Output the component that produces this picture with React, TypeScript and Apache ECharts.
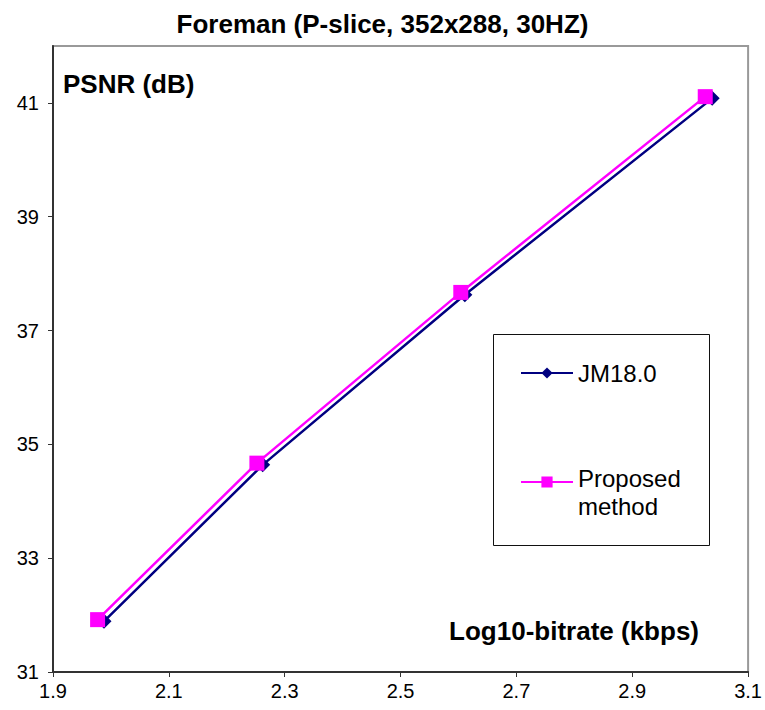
import React, { useEffect, useRef } from "react";
import * as echarts from "echarts";

const titleText = "Foreman (P-slice, 352x288, 30HZ)";
const yAxisTitle = "PSNR (dB)";
const xAxisTitle = "Log10-bitrate (kbps)";
const seriesNames = ["JM18.0", "Proposed method"];
const jmData: [number, number][] = [
  [1.988, 31.89],
  [2.262, 34.64],
  [2.611, 37.63],
  [3.038, 41.08],
];
const proposedData: [number, number][] = [
  [1.977, 31.92],
  [2.252, 34.67],
  [2.604, 37.67],
  [3.026, 41.11],
];
const xRange = { min: 1.9, max: 3.1, interval: 0.2 };
const yRange = { min: 31, max: 42, interval: 2 };

const FONT = 'Arial, "Liberation Sans", sans-serif';

export default function App() {
  const ref = useRef<HTMLDivElement>(null);
  useEffect(() => {
    if (!ref.current) return;
    const chart = echarts.init(ref.current, undefined, { renderer: "svg" });
    chart.setOption({
      animation: false,
      backgroundColor: "#fff",
      title: {
        text: titleText,
        left: "center",
        top: 6,
        textStyle: { fontFamily: FONT, fontSize: 26, fontWeight: "bold", color: "#000" },
      },
      grid: {
        left: 53,
        right: 13,
        top: 46,
        bottom: 38,
        show: true,
        borderColor: "#999",
        borderWidth: 2,
        backgroundColor: "#fff",
      },
      xAxis: {
        type: "value",
        min: xRange.min,
        max: xRange.max,
        interval: xRange.interval,
        axisLine: { show: true, onZero: false, lineStyle: { color: "#333", width: 2 } },
        axisTick: { show: true, length: 5, lineStyle: { color: "#333" } },
        splitLine: { show: false },
        axisLabel: {
          margin: 9,
          fontFamily: FONT,
          fontSize: 20,
          color: "#000",
          formatter: (v: number) => v.toFixed(1),
        },
      },
      yAxis: {
        type: "value",
        min: yRange.min,
        max: yRange.max,
        interval: yRange.interval,
        axisLine: { show: true, onZero: false, lineStyle: { color: "#333", width: 2 } },
        axisTick: { show: true, length: 5, lineStyle: { color: "#333" } },
        splitLine: { show: false },
        axisLabel: {
          margin: 14,
          fontFamily: FONT,
          fontSize: 20,
          color: "#000",
          showMaxLabel: false,
          formatter: (v: number) => (Math.abs(v - 42) < 1e-6 ? "" : String(Math.round(v))),
        },
      },
      legend: [
        {
          data: [seriesNames[0]],
          left: 520,
          top: 359,
          padding: 0,
          itemWidth: 52,
          itemHeight: 14,
          itemGap: 5,
          textStyle: { fontFamily: FONT, fontSize: 24, lineHeight: 28, color: "#000" },
        },
        {
          data: [seriesNames[1]],
          left: 520,
          top: 444,
          padding: 0,
          itemWidth: 52,
          itemHeight: 14,
          itemGap: 5,
          formatter: () => "{s| }\n{a|Proposed}\n{a|method}",
          textStyle: {
            fontFamily: FONT,
            fontSize: 24,
            lineHeight: 28,
            color: "#000",
            rich: {
              s: { fontFamily: FONT, fontSize: 10, lineHeight: 20 },
              a: { fontFamily: FONT, fontSize: 24, lineHeight: 28, color: "#000" },
            },
          },
        },
      ],
      graphic: [
        {
          type: "rect",
          left: 493,
          top: 334,
          shape: { width: 216, height: 211 },
          style: { fill: "#fff", stroke: "#111", lineWidth: 1 },
        },
        {
          type: "text",
          left: 63,
          top: 71,
          style: { text: yAxisTitle, font: `bold 26px ${FONT}`, fill: "#000" },
        },
        {
          type: "text",
          right: 66,
          top: 618,
          style: { text: xAxisTitle, font: `bold 26px ${FONT}`, fill: "#000" },
        },
      ],
      series: [
        {
          name: seriesNames[0],
          type: "line",
          data: jmData,
          symbol: "diamond",
          symbolSize: 15,
          lineStyle: { color: "#000080", width: 2.5 },
          itemStyle: { color: "#000080" },
          z: 3,
        },
        {
          name: seriesNames[1],
          type: "line",
          data: proposedData,
          symbol: "rect",
          symbolSize: 15,
          lineStyle: { color: "#ff00ff", width: 2.5 },
          itemStyle: { color: "#ff00ff" },
          z: 4,
        },
      ],
    });
    return () => chart.dispose();
  }, []);
  return (
    <div
      ref={ref}
      style={{ position: "fixed", left: 0, top: 0, width: 765, height: 710 }}
    />
  );
}
